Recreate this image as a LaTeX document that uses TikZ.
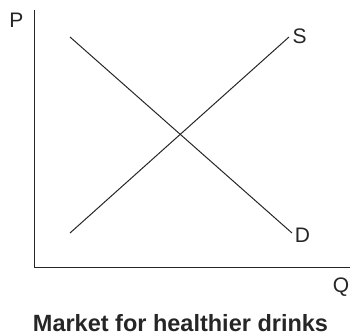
\documentclass[tikz,border=0pt]{standalone}
\usepackage{fontspec}
\setmainfont{Liberation Sans}
\begin{document}
\begin{tikzpicture}[x=1pt,y=-1pt,
  axis/.style={line width=1.4pt,color=black!85},
  curve/.style={line width=1pt,color=black!85},
  lbl/.style={inner sep=0pt,font=\fontsize{21}{24}\selectfont,text=black!85},
  ttl/.style={inner sep=0pt,font=\fontsize{23.5}{28}\selectfont\bfseries,text=black!85}]
\useasboundingbox (0,0) rectangle (350,335);
\coordinate (top) at (34.5,10);
\coordinate (origin) at (34.5,267.5);
\coordinate (right) at (350,267.5);
\draw[axis] (top) -- (origin) -- (right);
\coordinate (s0) at (70,233);
\coordinate (s1) at (289,37);
\coordinate (d0) at (70,37);
\coordinate (d1) at (292,233);
\draw[curve] (s0) -- (s1);
\draw[curve] (d0) -- (d1);
\node[lbl] (P) at (16.5,20.5) {P};
\node[lbl] (S) at (299.5,36) {S};
\node[lbl] (D) at (302.5,235) {D};
\node[lbl] (Q) at (341,287) {Q};
\node[ttl,anchor=base] (title) at (180.5,331) {Market for healthier drinks};
\end{tikzpicture}
\end{document}
